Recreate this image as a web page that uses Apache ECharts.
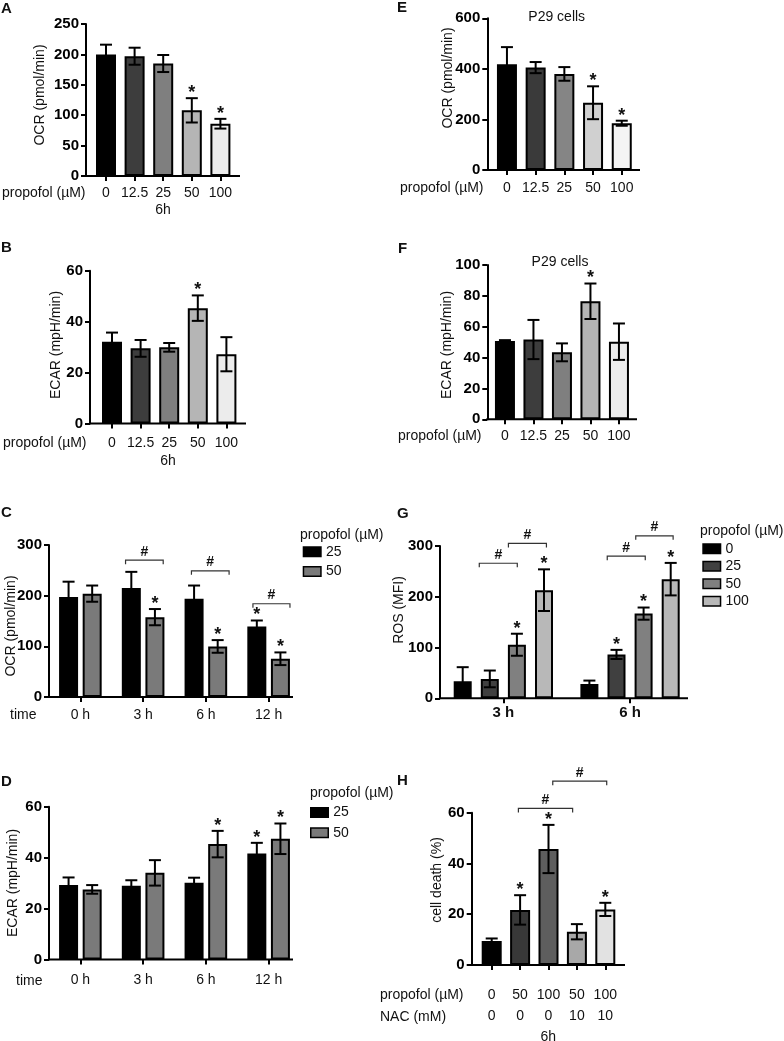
<!DOCTYPE html>
<html><head><meta charset="utf-8">
<script src="https://cdn.jsdelivr.net/npm/echarts@6/dist/echarts.min.js"></script>
<style>html,body{margin:0;padding:0;background:#fff}#c{width:784px;height:1041px}</style>
</head><body><div id="c"></div>
<script>
// ---------- data ----------
const doseCats = ['0','12.5','25','50','100'];
const ocrA = [200, 197, 185, 108, 86];
const ocrAErr = [16, 14, 14, 20, 8];
const ocrASig = [0,0,0,1,1];
const ecarB = [32.1, 29.5, 29.9, 45.3, 27.2];
const ecarBErr = [3.6, 3.3, 1.7, 5.0, 6.7];
const ecarBSig = [0,0,0,1,0];
const timeCats = ['0 h','3 h','6 h','12 h'];
const ocrC25 = [197.6, 215, 194, 139];
const ocrC25Err = [30, 32, 26, 12];
const ocrC25Sig = [0,0,0,1];
const ocrC50 = [204, 157.6, 99.8, 75.5];
const ocrC50Err = [16, 16, 12.5, 12.5];
const ocrC50Sig = [0,1,1,1];
const ecarD25 = [29.2, 28.9, 30.1, 41.6];
const ecarD25Err = [3, 2.2, 2, 4.2];
const ecarD25Sig = [0,0,0,1];
const ecarD50 = [27.5, 34, 45.3, 47.4];
const ecarD50Err = [1.7, 5, 5.2, 6];
const ecarD50Sig = [0,0,1,1];
const ocrE = [418, 405, 380, 266, 185];
const ocrEErr = [68, 22, 27, 65, 10];
const ocrESig = [0,0,0,1,1];
const ecarF = [50.8, 51.7, 43.4, 76.5, 50.3];
const ecarFErr = [0.5, 12.7, 5.8, 11.5, 11.8];
const ecarFSig = [0,0,0,1,0];
const rosCats = ['3 h','6 h'];
const rosDoses = ['0','25','50','100'];
const rosG = [[33.6, 28.3],[38.2, 86.4],[105.5, 166.8],[213, 234.7]];
const rosGErr = [[27.7, 6.6],[16.5, 9],[21.7, 12],[41, 32]];
const rosGSig = [[0,0],[0,1],[1,1],[1,1]];
const propofolH = ['0','50','100','50','100'];
const nacH = ['0','0','0','10','10'];
const deathH = [9.45, 21.7, 45.7, 13.1, 21.9];
const deathHErr = [1, 5.8, 9.5, 3, 2.6];
const deathHSig = [0,1,1,0,1];
// brackets: [from (category units), to (category units), y value]
const bracketsC = [[0.72,1.32,270],[1.77,2.37,249],[2.75,3.34,184]];
const bracketsG = [[-0.19,0.11,266],[0.04,0.34,305],[0.82,1.12,280],[1.045,1.34,320]];
const bracketsH = [[0.94,2.85,61.7],[2.15,4.05,72.4]];

// ---------- styles ----------
const FONT = '"Liberation Sans", Arial, Helvetica, sans-serif';
const greysA = ['#000000','#3d3d3d','#7f7f7f','#b5b5b5','#ececec'];
const greysE = ['#000000','#3a3a3a','#858585','#d0d0d0','#f4f4f4'];
const greysH = ['#000000','#383838','#5e5e5e','#a8a8a8','#e2e2e2'];
const greysG = ['#000000','#404040','#808080','#b8b8b8'];

const option = {animation:false, backgroundColor:'#fff', grid:[], xAxis:[], yAxis:[], series:[], legend:[], graphic:[]};

function addPanel(p) {
  const gi = option.grid.length;
  option.grid.push({left:p.left, top:p.top, width:p.width, height:p.height, containLabel:false, outerBoundsMode:'none'});
  option.xAxis.push({type:'category', gridIndex:gi, data:p.cats,
    axisLine:{show:false},
    axisTick:{show:true, alignWithLabel:true, length:5, lineStyle:{color:'#000', width:2}},
    axisLabel:{interval:0, margin:p.labelMargin, color:'#111', fontFamily:FONT, fontSize:p.xFontSize||14,
      fontWeight:p.xBold?'bold':'normal', formatter:p.xFormatter, lineHeight:p.xLineHeight},
    splitLine:{show:false}});
  option.yAxis.push({type:'value', gridIndex:gi, min:0, max:p.max, interval:p.interval, offset:p.left - p.yAxisX,
    axisLine:{show:true, lineStyle:{color:'#000', width:2}},
    axisTick:{show:true, length:5, lineStyle:{color:'#000', width:2}},
    axisLabel:{margin:7, color:'#000', fontFamily:FONT, fontSize:15, fontWeight:'bold'},
    splitLine:{show:false}});
  // baseline (x axis line running from the y axis)
  option.series.push({type:'custom', xAxisIndex:gi, yAxisIndex:gi, data:[[0,0]], z:6, silent:true, clip:false,
    renderItem(params, api){
      const y0 = api.coord([0,0])[1];
      return {type:'line', shape:{x1:p.yAxisX-1, y1:y0, x2:p.axisEnd, y2:y0}, style:{stroke:'#000', lineWidth:2}};
    }});
  const n = p.groups.length;
  const pitch = p.barWidth + p.gapPx;
  p.groups.forEach((g, k) => {
    const colorOf = i => Array.isArray(g.color) ? g.color[i] : g.color;
    option.series.push({type:'bar', name:g.name, xAxisIndex:gi, yAxisIndex:gi, barWidth:p.barWidth,
      barGap:(p.gapPx/p.barWidth*100)+'%',
      data:g.values.map((v,i)=>({value:v, itemStyle:{color:colorOf(i)}})),
      itemStyle:{color:colorOf(0), borderColor:'#000', borderWidth:2}, z:2});
    const off = (k - (n-1)/2) * pitch;
    option.series.push({type:'custom', xAxisIndex:gi, yAxisIndex:gi, z:5, clip:false, silent:true,
      data:g.values.map((v,i)=>[i, v, g.errs[i], g.sigs[i]]),
      renderItem(params, api){
        const i = api.value(0), v = api.value(1), e = api.value(2), s = api.value(3);
        const x = api.coord([i, v])[0] + off;
        const yt = api.coord([i, v+e])[1], yb = api.coord([i, Math.max(0, v-e)])[1];
        const hw = 6;
        const st = {stroke:'#000', lineWidth:2};
        const ch = [
          {type:'line', shape:{x1:x, y1:yt, x2:x, y2:yb}, style:st},
          {type:'line', shape:{x1:x-hw, y1:yt, x2:x+hw, y2:yt}, style:st},
          {type:'line', shape:{x1:x-hw, y1:yb, x2:x+hw, y2:yb}, style:st}];
        if (s) ch.push({type:'text', x:x, y:yt-5, style:{text:'*', font:'bold 18px '+FONT, fill:'#111', align:'center', verticalAlign:'middle'}});
        return {type:'group', children:ch};
      }});
  });
  if (p.brackets) {
    option.series.push({type:'custom', xAxisIndex:gi, yAxisIndex:gi, z:5, clip:false, silent:true,
      data:p.brackets.map(b=>[0, b[2], b[0], b[1]]),
      renderItem(params, api){
        const base = api.coord([0, api.value(1)]);
        const band = api.size([1,0])[0];
        const x1 = base[0] + api.value(2)*band, x2 = base[0] + api.value(3)*band, y = base[1];
        return {type:'group', children:[
          {type:'polyline', shape:{points:[[x1,y+4],[x1,y],[x2,y],[x2,y+4]]}, style:{stroke:'#333', lineWidth:1.2, fill:'none'}},
          {type:'text', x:(x1+x2)/2, y:y-8.5, style:{text:'#', font:'bold 14px '+FONT, fill:'#111', align:'center', verticalAlign:'middle'}}]};
      }});
  }
}

function addLegend(names, left, top, gap) {
  option.legend.push({data:names, orient:'vertical', left:left, top:top, padding:0, itemGap:gap,
    itemWidth:17.5, itemHeight:9.5, icon:'rect', selectedMode:false,
    itemStyle:{borderColor:'#000', borderWidth:1.5},
    textStyle:{fontFamily:FONT, fontSize:14, color:'#111', lineHeight:14},
    formatter:n => n.split(':')[1]});
}

function txt(x, y, s, o) {
  o = o || {};
  option.graphic.push({type:'text', x:x, y:y, rotation:o.rot||0, silent:true,
    style:{text:s, font:(o.bold?'bold ':'')+(o.size||14)+'px '+FONT, fill:'#111', align:o.align||'left', verticalAlign:'middle'}});
}

// ---------- panels ----------
addPanel({left:91.7, top:24, width:143, height:152, yAxisX:86, axisEnd:240, max:250, interval:50,
  cats:doseCats, labelMargin:10, barWidth:20, gapPx:0,
  groups:[{name:'A', values:ocrA, errs:ocrAErr, sigs:ocrASig, color:greysA}]});
addPanel({left:97.7, top:270.7, width:143, height:152.8, yAxisX:90, axisEnd:246, max:60, interval:20,
  cats:doseCats, labelMargin:12.5, barWidth:20, gapPx:0,
  groups:[{name:'B', values:ecarB, errs:ecarBErr, sigs:ecarBSig, color:greysA}]});
addPanel({left:49, top:545, width:251, height:152, yAxisX:49, axisEnd:293, max:300, interval:100,
  cats:timeCats, labelMargin:11, barWidth:19, gapPx:4.6, brackets:bracketsC,
  groups:[{name:'C:25', values:ocrC25, errs:ocrC25Err, sigs:ocrC25Sig, color:'#000000'},
          {name:'C:50', values:ocrC50, errs:ocrC50Err, sigs:ocrC50Sig, color:'#7a7a7a'}]});
addPanel({left:49, top:806.7, width:251, height:152.7, yAxisX:49, axisEnd:293, max:60, interval:20,
  cats:timeCats, labelMargin:14, barWidth:19, gapPx:4.6,
  groups:[{name:'D:25', values:ecarD25, errs:ecarD25Err, sigs:ecarD25Sig, color:'#000000'},
          {name:'D:50', values:ecarD50, errs:ecarD50Err, sigs:ecarD50Sig, color:'#7a7a7a'}]});
addPanel({left:492.6, top:18.3, width:143.5, height:151.7, yAxisX:487.3, axisEnd:640, max:600, interval:200,
  cats:doseCats, labelMargin:11, barWidth:20, gapPx:0,
  groups:[{name:'E', values:ocrE, errs:ocrEErr, sigs:ocrESig, color:greysE}]});
addPanel({left:490.7, top:265, width:142.5, height:154.3, yAxisX:487.3, axisEnd:637, max:100, interval:20,
  cats:doseCats, labelMargin:10, barWidth:20, gapPx:0,
  groups:[{name:'F', values:ecarF, errs:ecarFErr, sigs:ecarFSig, color:greysA}]});
addPanel({left:440, top:546, width:253.4, height:152.3, yAxisX:440, axisEnd:688, max:300, interval:100,
  cats:rosCats, labelMargin:7.5, xBold:true, xFontSize:15, barWidth:18, gapPx:9.1, brackets:bracketsG,
  groups:rosDoses.map((d,k)=>({name:'G:'+d, values:rosG[k], errs:rosGErr[k], sigs:rosGSig[k], color:greysG[k]}))});
addPanel({left:477.5, top:812.7, width:142, height:152.3, yAxisX:471.7, axisEnd:625, max:60, interval:20,
  cats:propofolH.map((v,i)=>v+'|'+nacH[i]), labelMargin:19, xLineHeight:21.7,
  xFormatter:v => v.replace('|','\n'), barWidth:20, gapPx:0, brackets:bracketsH,
  groups:[{name:'H', values:deathH, errs:deathHErr, sigs:deathHSig, color:greysH}]});

// ---------- legends ----------
addLegend(['C:25','C:50'], 302.7, 544.75, 5.7);
addLegend(['D:25','D:50'], 310, 805.45, 6.3);
addLegend(rosDoses.map(d=>'G:'+d), 702.3, 541.75, 3.5);

// ---------- texts ----------
[['A',1,8.5],['B',1,248],['C',1,513],['D',1,782],['E',397,8],['F',398,248.5],['G',397,513.5],['H',397,780.5]]
  .forEach(t => txt(t[1], t[2], t[0], {bold:true, size:15}));
const R = Math.PI/2;
txt(40, 95, 'OCR (pmol/min)', {rot:R, align:'center'});
txt(56, 345, 'ECAR (mpH/min)', {rot:R, align:'center'});
txt(11, 626, 'OCR (pmol/min)', {rot:R, align:'center'});
txt(13.5, 883, 'ECAR (mpH/min)', {rot:R, align:'center'});
txt(448, 78, 'OCR (pmol/min)', {rot:R, align:'center'});
txt(446.7, 345, 'ECAR (mpH/min)', {rot:R, align:'center'});
txt(399, 610, 'ROS (MFI)', {rot:R, align:'center'});
txt(437, 880, 'cell death (%)', {rot:R, align:'center'});
txt(2, 193, 'propofol (µM)');
txt(3, 443, 'propofol (µM)');
txt(400, 188, 'propofol (µM)');
txt(398, 436, 'propofol (µM)');
txt(10, 715, 'time');
txt(16, 981, 'time');
txt(380, 995, 'propofol (µM)');
txt(380, 1016.7, 'NAC (mM)');
txt(163, 210, '6h', {align:'center'});
txt(168, 461, '6h', {align:'center'});
txt(548.3, 1037, '6h', {align:'center'});
txt(556.7, 16.7, 'P29 cells', {align:'center'});
txt(560, 261.7, 'P29 cells', {align:'center'});
txt(300, 535, 'propofol (µM)');
txt(310, 793, 'propofol (µM)');
txt(700, 530.7, 'propofol (µM)');

const chart = echarts.init(document.getElementById('c'), null, {renderer:'canvas'});
chart.setOption(option);
</script>
</body></html>
